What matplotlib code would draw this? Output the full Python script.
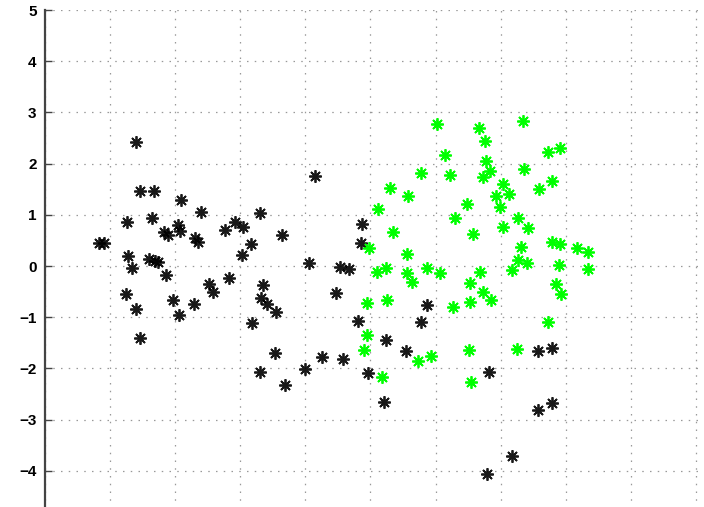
import matplotlib
matplotlib.use("Agg")
import matplotlib.pyplot as plt
import numpy as np

# class 1 (black stars)
black_x = [1.40, 1.46, 1.67, 2.09, 2.40, 1.26, 1.64, 1.83, 1.89, 2.04, 2.07, 2.30,
           2.35, 2.76, 2.92, 0.83, 0.91, 1.27, 1.34, 1.60, 1.69, 1.74, 1.86, 1.24,
           1.40, 1.46, 1.97, 2.06, 2.29, 2.52, 2.58, 2.83, 4.15, 3.30, 3.04, 3.64,
           3.16, 3.03, 4.87, 4.85, 4.06, 4.53, 4.67, 3.35, 3.32, 3.41, 3.55, 3.18,
           4.47, 4.81, 3.53, 4.25, 4.58, 3.30, 3.69, 3.99, 4.96, 5.87, 5.78, 5.24,
           5.55, 5.21, 6.82, 7.57, 7.79, 7.57, 7.79, 7.17, 6.79]
black_y = [2.42, 1.46, 1.46, 1.29, 1.05, 0.86, 0.94, 0.66, 0.61, 0.80, 0.68, 0.55,
           0.47, 0.70, 0.86, 0.45, 0.45, 0.20, -0.04, 0.14, 0.10, 0.08, -0.18, -0.55,
           -0.84, -1.41, -0.66, -0.96, -0.74, -0.35, -0.51, -0.23, 1.76, 1.04, 0.76, 0.61,
           0.43, 0.21, 0.82, 0.45, 0.06, -0.02, -0.06, -0.37, -0.63, -0.74, -0.90, -1.11,
           -0.53, -1.07, -1.70, -1.78, -1.82, -2.07, -2.32, -2.01, -2.09, -0.76, -1.09, -1.45,
           -1.66, -2.66, -2.07, -1.66, -1.60, -2.81, -2.68, -3.71, -4.06]

# class 2 (green stars)
green_x = [6.02, 6.14, 5.78, 6.22, 5.30, 5.58, 5.12, 6.48, 6.30, 5.35, 6.57, 4.98,
           5.56, 5.10, 5.24, 5.56, 5.64, 5.87, 6.07, 6.53, 4.95, 5.25, 6.27, 6.53,
           4.95, 4.90, 5.73, 5.93, 5.18, 6.51, 6.54, 6.67, 6.76, 7.34, 7.73, 7.91,
           6.77, 6.84, 6.73, 7.36, 7.04, 6.93, 7.13, 6.99, 7.59, 7.79, 7.27, 7.04,
           7.42, 7.31, 7.79, 7.91, 8.17, 8.34, 7.27, 7.40, 7.17, 6.68, 7.90, 8.34,
           7.85, 7.93, 6.73, 6.85, 7.73, 7.25]
green_y = [2.77, 2.17, 1.82, 1.78, 1.52, 1.37, 1.11, 1.21, 0.94, 0.66, 0.62, 0.35,
           0.23, -0.12, -0.04, -0.14, -0.31, -0.04, -0.14, -0.33, -0.72, -0.66, -0.80, -0.70,
           -1.35, -1.64, -1.86, -1.76, -2.17, -1.64, -2.27, 2.70, 2.44, 2.83, 2.23, 2.30,
           2.05, 1.86, 1.74, 1.89, 1.60, 1.37, 1.41, 1.15, 1.50, 1.66, 0.94, 0.76,
           0.74, 0.37, 0.47, 0.43, 0.35, 0.27, 0.12, 0.06, -0.08, -0.12, 0.02, -0.06,
           -0.35, -0.55, -0.51, -0.66, -1.09, -1.62]

y_ticks = [-4, -3, -2, -1, 0, 1, 2, 3, 4, 5]
x_ticks = list(range(0, 11))

fig = plt.figure(figsize=(7.04, 5.07), dpi=100)
W, H = 704, 507
x0, unit_x = 45, 65.1
y_top, unit_y = 10, 51.2
xmax = 10.5
ax = fig.add_axes([x0 / W, 1 - (y_top + 10 * unit_y) / H,
                   xmax * unit_x / W, 10 * unit_y / H])

# 8-armed asterisk marker
star = (8, 2, 0)
ax.plot(black_x, black_y, linestyle="none", marker=star, color="black",
        markersize=9, markeredgewidth=1.3, alpha=0.9)
ax.plot(green_x, green_y, linestyle="none", marker=star, color="#00ff00",
        markersize=9, markeredgewidth=1.3)

ax.set_xlim(0, xmax)
ax.set_ylim(-5, 5)
ax.set_xticks(x_ticks)
ax.set_yticks(y_ticks)
ax.set_yticklabels([str(v).replace("-", "\u2212") for v in y_ticks],
                   fontsize=11, fontweight="bold", family="Liberation Sans")
ax.tick_params(axis="x", length=0, labelbottom=False)
ax.tick_params(axis="y", direction="in", length=5, width=1, color="#444444", pad=6)

for side in ["top", "right", "bottom"]:
    ax.spines[side].set_visible(False)
ax.spines["left"].set_color("#444444")
ax.spines["left"].set_linewidth(1.6)

ax.grid(True, color="#999999", linewidth=0.9, linestyle=(0, (1.2, 5)))
ax.set_axisbelow(True)

fig.savefig("out.png", dpi=100)
